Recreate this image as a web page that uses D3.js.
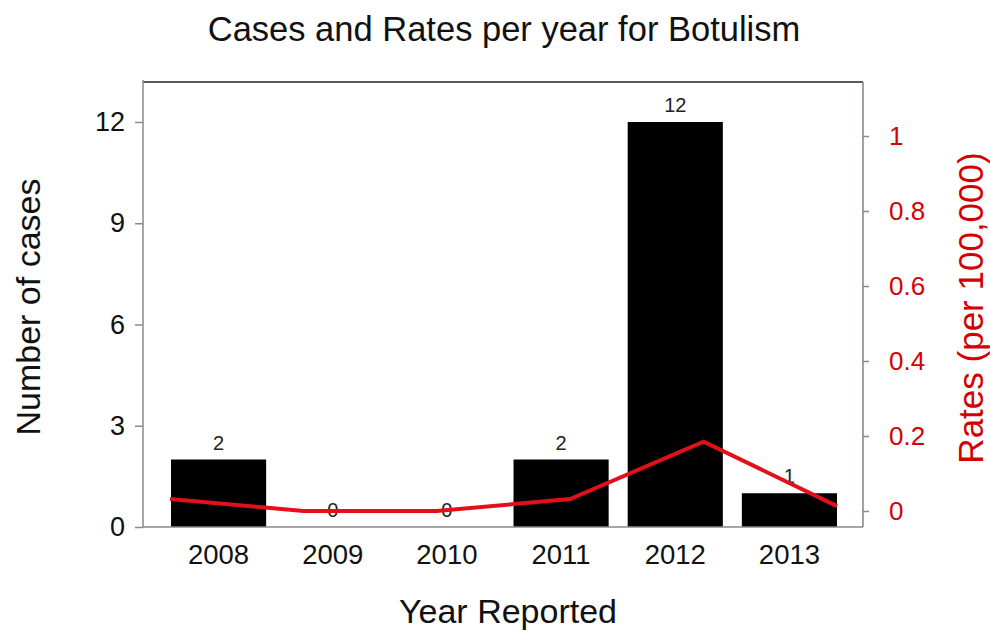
<!DOCTYPE html>
<html>
<head>
<meta charset="utf-8">
<script src="https://cdn.jsdelivr.net/npm/d3@7"></script>
<style>
  html, body { margin: 0; padding: 0; background: #fff; }
  svg { display: block; font-family: "Liberation Sans", Arial, Helvetica, sans-serif; }
</style>
</head>
<body>
<svg id="chart" width="990" height="631"></svg>
<script>
// Botulism cases and rates by reporting year
const years = ["2008", "2009", "2010", "2011", "2012", "2013"];
const cases = [2, 0, 0, 2, 12, 1];
const rates = [0.032, 0, 0, 0.032, 0.185, 0.013];
const caseTicks = [0, 3, 6, 9, 12];
const rateTicks = [0, 0.2, 0.4, 0.6, 0.8, 1];

const svg = d3.select("#chart");
const red = "#d40000";

// plot frame
const frame = { left: 143, right: 863, top: 82, bottom: 527 };

const x = d3.scaleBand().domain(years).range([171, 837]).paddingInner(19 / 114).paddingOuter(0);
const xLine = d3.scalePoint().domain(years).range([170, 837]);
const y = d3.scaleLinear().domain([0, 12]).range([frame.bottom, 122]);
const yR = d3.scaleLinear().domain([0, 1]).range([511, 136]);

// title
svg.append("text")
  .attr("x", 504).attr("y", 41)
  .attr("text-anchor", "middle")
  .attr("font-size", 34.5)
  .attr("fill", "#111")
  .text("Cases and Rates per year for Botulism");

// bars
svg.append("g").selectAll("rect")
  .data(years.map((yr, i) => ({ yr, v: cases[i] })))
  .join("rect")
  .attr("x", d => x(d.yr))
  .attr("width", x.bandwidth())
  .attr("y", d => y(d.v))
  .attr("height", d => y(0) - y(d.v))
  .attr("fill", "#000");

// top border
svg.append("line")
  .attr("x1", frame.left).attr("x2", frame.right)
  .attr("y1", frame.top).attr("y2", frame.top)
  .attr("stroke", "#222").attr("stroke-width", 1.5);

// left axis
const gL = svg.append("g")
  .attr("transform", `translate(${frame.left},0)`)
  .call(d3.axisLeft(y).tickValues(caseTicks).tickSize(8).tickPadding(10).tickFormat(d3.format("d")));
gL.select(".domain").remove();
gL.append("line").attr("x1", 0).attr("x2", 0).attr("y1", 80).attr("y2", frame.bottom)
  .attr("stroke", "#8a8a8a").attr("stroke-width", 1.5);
gL.selectAll(".tick line").attr("stroke", "#8a8a8a").attr("stroke-width", 1.5);
gL.selectAll(".tick text").attr("font-size", 27).attr("fill", "#111").attr("font-family", null);

// bottom axis
const gB = svg.append("g")
  .attr("transform", `translate(0,${frame.bottom})`)
  .call(d3.axisBottom(x).tickSize(0).tickPadding(17));
gB.select(".domain").remove();
gB.append("line").attr("x1", frame.left).attr("x2", frame.right).attr("y1", 0).attr("y2", 0)
  .attr("stroke", "#8a8a8a").attr("stroke-width", 1.5);
gB.selectAll(".tick text").attr("font-size", 27.5).attr("fill", "#111").attr("font-family", null);

// right axis
const gR = svg.append("g")
  .attr("transform", `translate(${frame.right},0)`)
  .call(d3.axisRight(yR).tickValues(rateTicks).tickSize(6).tickPadding(20).tickFormat(d => d3.format("~g")(d)));
gR.select(".domain").remove();
gR.append("line").attr("x1", 0).attr("x2", 0).attr("y1", frame.top).attr("y2", frame.bottom)
  .attr("stroke", "#8f7f7f").attr("stroke-width", 1.5);
gR.selectAll(".tick line").attr("stroke", "#a08080").attr("stroke-width", 1.5);
gR.selectAll(".tick text").attr("font-size", 26).attr("fill", red).attr("font-family", null);

// value labels above bars
svg.append("g").selectAll("text")
  .data(years.map((yr, i) => ({ yr, v: cases[i] })))
  .join("text")
  .attr("x", d => x(d.yr) + x.bandwidth() / 2)
  .attr("y", d => y(d.v) - 10)
  .attr("text-anchor", "middle")
  .attr("font-size", 20)
  .attr("fill", "#222")
  .text(d => d.v);

// rate line
const line = d3.line()
  .x((d, i) => xLine(years[i]))
  .y(d => yR(d));
svg.append("path")
  .datum(rates)
  .attr("d", line)
  .attr("fill", "none")
  .attr("stroke", "#e3101a")
  .attr("stroke-width", 4)
  .attr("stroke-linejoin", "miter");

// axis titles
svg.append("text")
  .attr("transform", "translate(40,307) rotate(-90)")
  .attr("text-anchor", "middle")
  .attr("font-size", 34)
  .attr("fill", "#111")
  .text("Number of cases");

svg.append("text")
  .attr("x", 508).attr("y", 623)
  .attr("text-anchor", "middle")
  .attr("font-size", 34)
  .attr("fill", "#111")
  .text("Year Reported");

svg.append("text")
  .attr("transform", "translate(983,308) rotate(-90)")
  .attr("text-anchor", "middle")
  .attr("font-size", 35)
  .attr("fill", red)
  .text("Rates (per 100,000)");
</script>
</body>
</html>
